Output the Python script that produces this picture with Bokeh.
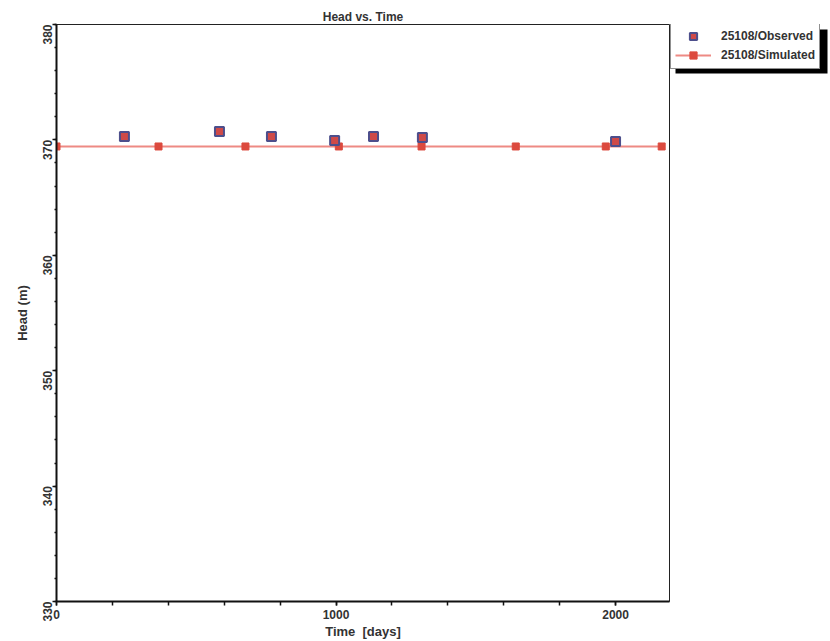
from bokeh.plotting import figure
from bokeh.layouts import row
from bokeh.models import Legend, LegendItem, FixedTicker, Range1d, BoxAnnotation
from bokeh.embed import file_html
from bokeh.resources import INLINE
import math

obs_t = [243, 583, 769, 995, 1134, 1309, 2000]
obs_h = [370.29, 370.73, 370.29, 369.95, 370.29, 370.2, 369.86]
sim_t = [0, 365, 676, 1010, 1306, 1643, 1965, 2165]
sim_h = [369.43, 369.43, 369.43, 369.43, 369.43, 369.43, 369.43, 369.43]
x_ticks = [0, 1000, 2000]
y_ticks = [330, 340, 350, 360, 370, 380]

FONT = "Liberation Sans"
TXT = "#333333"
SIM_LINE = "#ee8a84"
SIM_PT = "#dc4a3e"
OBS_FILL = "#cf4a48"
OBS_EDGE = "#4d4f8c"

p = figure(width=670, height=641, frame_width=613, frame_height=577,
           output_backend="svg", toolbar_location=None,
           x_range=Range1d(0, 2193), y_range=Range1d(330, 380),
           min_border_left=56, min_border_right=1, min_border_top=24, min_border_bottom=40)
p.title.text = "Head vs. Time"
p.title.align = "center"
p.title.text_font = FONT
p.title.text_font_size = "12px"
p.title.text_font_style = "bold"
p.title.text_color = TXT
p.title.offset = 0
p.title.standoff = 2

p.xgrid.visible = False
p.ygrid.visible = False
p.outline_line_color = "#222222"
p.outline_line_width = 1

for ax in (p.xaxis[0], p.yaxis[0]):
    ax.axis_line_width = 2
    ax.axis_line_color = "#111111"
    ax.major_tick_line_color = "#111111"
    ax.minor_tick_line_color = "#111111"
    ax.major_tick_line_width = 1.5
    ax.minor_tick_line_width = 1.5
    ax.major_tick_out = 4
    ax.major_tick_in = 0
    ax.minor_tick_out = 4
    ax.minor_tick_in = 0
    ax.major_label_text_font = FONT
    ax.major_label_text_font_size = "12px"
    ax.major_label_text_font_style = "bold"
    ax.major_label_text_color = TXT
    ax.axis_label_text_font = FONT
    ax.axis_label_text_font_size = "13px"
    ax.axis_label_text_font_style = "bold"
    ax.axis_label_text_color = TXT

p.xaxis[0].ticker = FixedTicker(ticks=x_ticks, minor_ticks=[t for t in range(0, 2200, 200)])
p.yaxis[0].ticker = FixedTicker(ticks=y_ticks, minor_ticks=[t for t in range(330, 381, 2)])
p.yaxis[0].major_label_orientation = math.pi / 2
p.yaxis[0].minor_tick_out = 2
p.xaxis[0].axis_label = "Time\u00a0\u00a0[days]"
p.yaxis[0].axis_label = "Head (m)"
p.xaxis[0].axis_label_standoff = 2
p.yaxis[0].axis_label_standoff = 6
p.xaxis[0].major_label_standoff = 4

p.line(sim_t, sim_h, line_color=SIM_LINE, line_width=2)
p.scatter(sim_t, sim_h, marker="square", size=7, fill_color=SIM_PT, line_color=SIM_PT)
p.scatter(obs_t, obs_h, marker="square", size=9, fill_color=OBS_FILL,
          line_color=OBS_EDGE, line_width=2)

# legend panel with drop shadow (frame aligned with main plot; data units = canvas pixels)
q = figure(width=160, height=641, frame_width=160, frame_height=577,
           output_backend="svg", toolbar_location=None,
           x_range=Range1d(670, 830), y_range=Range1d(601, 24),
           min_border_left=0, min_border_right=0,
           min_border_top=24, min_border_bottom=40)
q.axis.visible = False
q.xgrid.visible = False
q.ygrid.visible = False
q.outline_line_color = None

shadow = BoxAnnotation(left=675, right=827, top=29, bottom=73,
                       fill_color="black", fill_alpha=1.0, line_color=None, level="underlay")
q.add_layout(shadow)

# legend proxies: the same series, lying outside this panel's visible range
l_obs = q.scatter(obs_t[:1], obs_h[:1], marker="square", size=7, fill_color=OBS_FILL,
                  line_color=OBS_EDGE, line_width=2)
l_sim_line = q.line(sim_t[:2], sim_h[:2], line_color=SIM_LINE, line_width=2)
l_sim_pt = q.scatter(sim_t[:1], sim_h[:1], marker="square", size=7, fill_color=SIM_PT, line_color=SIM_PT)

legend = Legend(items=[LegendItem(label="25108/Observed", renderers=[l_obs]),
                       LegendItem(label="25108/Simulated", renderers=[l_sim_line, l_sim_pt])],
                location=(0, 532))
legend.label_text_font = FONT
legend.label_text_font_size = "12px"
legend.label_text_font_style = "bold"
legend.label_text_color = TXT
legend.border_line_color = "#222222"
legend.border_line_width = 1
legend.background_fill_alpha = 1.0
legend.padding = 4
legend.spacing = 1
legend.margin = 0
legend.label_height = 18
legend.glyph_height = 18
legend.glyph_width = 36
legend.label_standoff = 10
q.add_layout(legend)

layout = row(p, q, spacing=0)
open("out.html", "w").write(file_html(layout, INLINE))
